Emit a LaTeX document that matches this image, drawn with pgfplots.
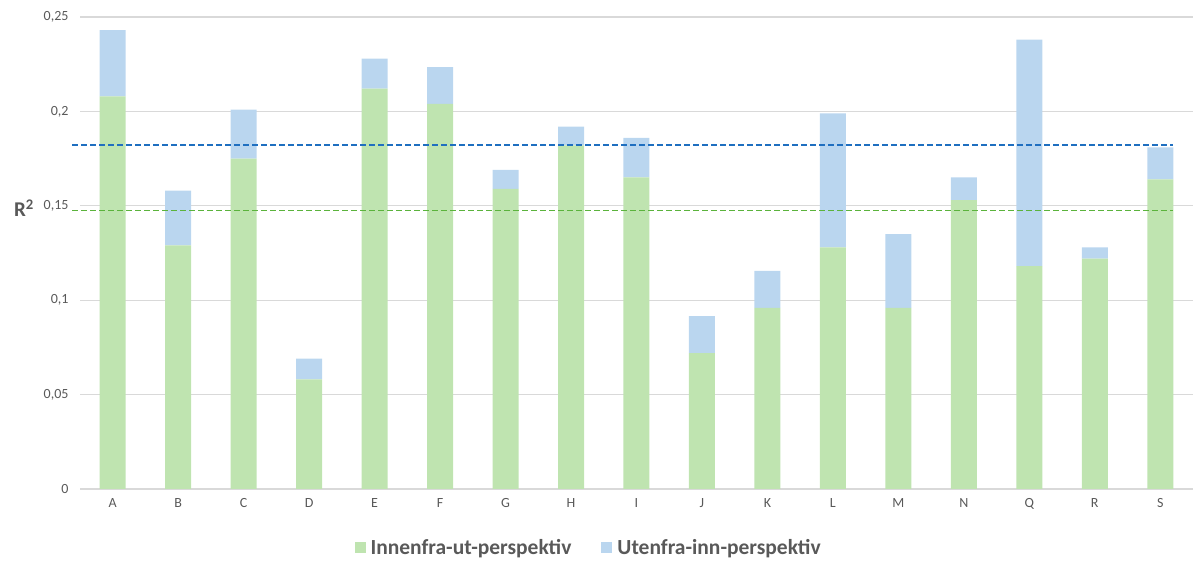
\documentclass[border=0pt]{standalone}
\usepackage{pgfplots}
\pgfplotsset{compat=1.18}
\usepackage{fontspec}
\setmainfont{Carlito}
\definecolor{gbar}{HTML}{BFE4B0}
\definecolor{bbar}{HTML}{BAD6EF}
\definecolor{gdash}{HTML}{5BB33C}
\definecolor{bdash}{HTML}{1F6FC0}
\definecolor{gridc}{HTML}{D9D9D9}
\definecolor{txt}{HTML}{595959}
\begin{document}
\begin{tikzpicture}
\path[use as bounding box] (0,0) rectangle (1195pt,565pt);
\begin{axis}[
  at={(80pt,76pt)}, anchor=south west,
  scale only axis, width=1113pt, height=472pt,
  ybar stacked, bar width=26pt,
  xmin=-0.5, xmax=16.5, ymin=0, ymax=0.25,
  xtick=data,
  xticklabels={A,B,C,D,E,F,G,H,I,J,K,L,M,N,Q,R,S},
  ytick={0,0.05,0.1,0.15,0.2,0.25},
  scaled y ticks=false,
  /pgf/number format/assume math mode=true,
  /pgf/number format/use comma,
  yticklabel style={/pgf/number format/fixed, /pgf/number format/precision=2, font=\fontsize{14}{16}\selectfont, text=txt, xshift=-8pt},
  xticklabel style={font=\fontsize{14}{16}\selectfont, text=txt, yshift=-6pt},
  major tick length=0pt,
  axis line style={draw=none},
  ymajorgrids, grid style={gridc, line width=1.2pt},
  legend style={at={(0.457,-0.125)}, anchor=center, draw=none, fill=none, legend columns=2,
    font=\bfseries\fontsize{21.5}{24}\selectfont, text=txt,
    /tikz/every odd column/.append style={column sep=3pt},
    /tikz/every even column/.append style={column sep=28pt}},
  legend image code/.code={\fill[#1] (0pt,-5pt) rectangle (11pt,6pt);},
  clip=false,
]
\addplot[fill=gbar, draw=none] coordinates {
(0,0.208) (1,0.129) (2,0.175) (3,0.058) (4,0.212) (5,0.204) (6,0.159) (7,0.182) (8,0.165)
(9,0.072) (10,0.096) (11,0.128) (12,0.096) (13,0.153) (14,0.118) (15,0.122) (16,0.164)};
\addplot[fill=bbar, draw=none] coordinates {
(0,0.035) (1,0.029) (2,0.026) (3,0.011) (4,0.016) (5,0.0195) (6,0.010) (7,0.010) (8,0.021)
(9,0.0196) (10,0.0195) (11,0.071) (12,0.039) (13,0.012) (14,0.120) (15,0.006) (16,0.017)};
\legend{Innenfra-ut-perspektiv, Utenfra-inn-perspektiv}
\end{axis}
\begin{axis}[
  at={(80pt,76pt)}, anchor=south west,
  scale only axis, width=1113pt, height=472pt,
  xmin=-0.5, xmax=16.5, ymin=0, ymax=0.25,
  hide axis, clip=false,
]
\addplot[color=bdash, mark=none, line width=1.8pt, dash pattern=on 6pt off 3pt] coordinates {(-0.62,0.182) (16.2,0.182)};
\addplot[color=gdash, mark=none, line width=1.8pt, dash pattern=on 6pt off 3pt] coordinates {(-0.62,0.1475) (16.2,0.1475)};
\end{axis}
\node[text=txt, font=\bfseries\fontsize{21}{24}\selectfont, anchor=center] at (24pt,357pt) {R\textsuperscript{2}};
\end{tikzpicture}
\end{document}
